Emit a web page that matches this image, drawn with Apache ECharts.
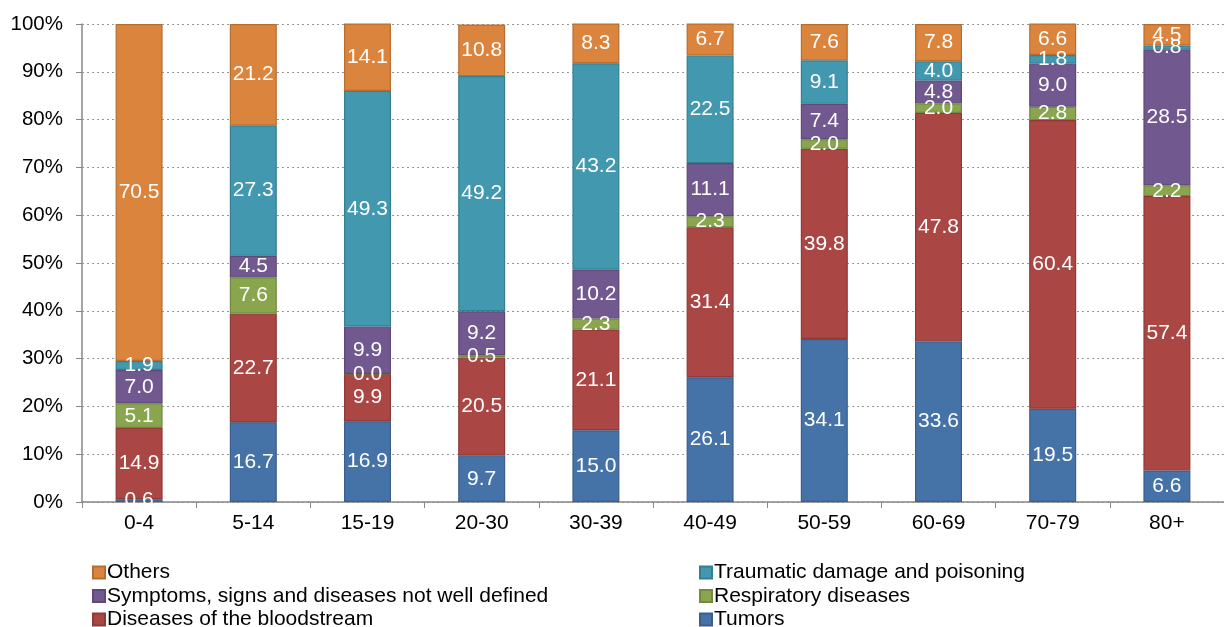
<!DOCTYPE html>
<html><head><meta charset="utf-8">
<script src="https://cdn.jsdelivr.net/npm/echarts@6/dist/echarts.min.js"></script>
<style>html,body{margin:0;padding:0;background:#fff}#c{width:1224px;height:627px}</style>
</head><body><div id="c"></div>
<script>
const categories = ['0-4','5-14','15-19','20-30','30-39','40-49','50-59','60-69','70-79','80+'];
const tumors      = [0.6, 16.7, 16.9, 9.7, 15.0, 26.1, 34.1, 33.6, 19.5, 6.6];
const bloodstream = [14.9, 22.7, 9.9, 20.5, 21.1, 31.4, 39.8, 47.8, 60.4, 57.4];
const respiratory = [5.1, 7.6, 0.0, 0.5, 2.3, 2.3, 2.0, 2.0, 2.8, 2.2];
const symptoms    = [7.0, 4.5, 9.9, 9.2, 10.2, 11.1, 7.4, 4.8, 9.0, 28.5];
const traumatic   = [1.9, 27.3, 49.3, 49.2, 43.2, 22.5, 9.1, 4.0, 1.8, 0.8];
const others      = [70.5, 21.2, 14.1, 10.8, 8.3, 6.7, 7.6, 7.8, 6.6, 4.5];
const yTicks = [0,10,20,30,40,50,60,70,80,90,100];

const seriesDefs = [
  {name:'Tumors', data:tumors, color:'#4572A7', border:'#3A5F8C'},
  {name:'Diseases of the bloodstream', data:bloodstream, color:'#AA4643', border:'#8E3A38'},
  {name:'Respiratory diseases', data:respiratory, color:'#89A54E', border:'#718A40'},
  {name:'Symptoms, signs and diseases not well defined', data:symptoms, color:'#71588F', border:'#5E4977'},
  {name:'Traumatic damage and poisoning', data:traumatic, color:'#4198AF', border:'#357F92'},
  {name:'Others', data:others, color:'#DB843D', border:'#B66E33'}
];

const chart = echarts.init(document.getElementById('c'));
const font = 'Liberation Sans, Arial, sans-serif';
const legendText = {fontSize:21, lineHeight:21, color:'#000', fontFamily:font, padding:[0,0,0,-3]};
chart.setOption({
  animation:false,
  textStyle:{fontFamily:font},
  grid:{left:82, top:24, width:1152, height:478, containLabel:false},
  legend:[
    {orient:'vertical', left:92, top:562, height:75, padding:0, itemWidth:12, itemHeight:12, itemGap:2.5,
     textStyle:legendText, icon:'rect',
     data:['Others','Symptoms, signs and diseases not well defined','Diseases of the bloodstream']},
    {orient:'vertical', left:699, top:562, height:75, padding:0, itemWidth:12, itemHeight:12, itemGap:2.5,
     textStyle:legendText, icon:'rect',
     data:['Traumatic damage and poisoning','Respiratory diseases','Tumors']}
  ],
  xAxis:{type:'category', data:categories,
    axisLine:{lineStyle:{color:'#888', width:1.5}},
    axisTick:{show:true, alignWithLabel:false, length:6, lineStyle:{color:'#888'}},
    axisLabel:{fontSize:21, color:'#000', margin:11, fontFamily:font}},
  yAxis:{type:'value', min:0, max:100, interval:10,
    axisLine:{show:true, lineStyle:{color:'#888', width:1.5}},
    axisTick:{show:true, length:6, lineStyle:{color:'#888'}},
    axisLabel:{fontSize:20.5, color:'#000', margin:19, fontFamily:font,
      formatter:v=> yTicks.includes(v) ? v+'%' : ''},
    splitLine:{show:true, lineStyle:{color:'#999', type:[2,3], width:1.2}}},
  series: seriesDefs.map(s=>({
    name:s.name, type:'bar', stack:'total', data:s.data, barWidth:47,
    itemStyle:{color:s.color, borderColor:s.border, borderWidth:1.2},
    label:{show:true, position:'inside', color:'#fff', fontSize:21, fontFamily:font,
      formatter:p=>p.value.toFixed(1)}
  }))
});
</script></body></html>
